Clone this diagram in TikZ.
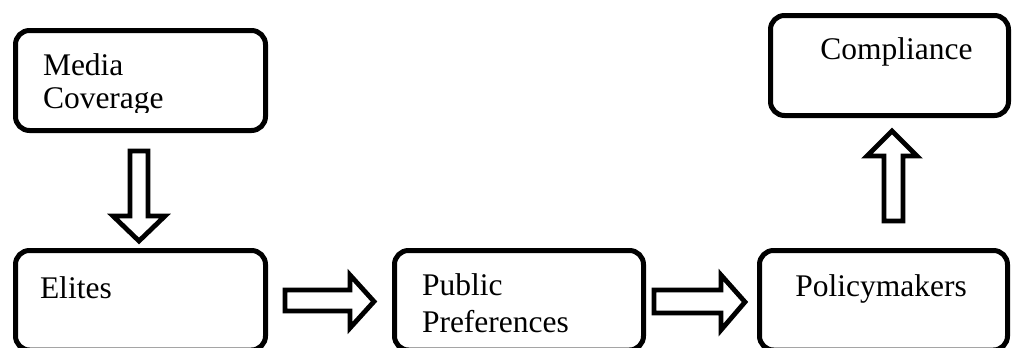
\documentclass[tikz,border=0pt]{standalone}
\usepackage{fontspec}
\setmainfont{Liberation Serif}
\begin{document}
\begin{tikzpicture}[x=1pt,y=-1pt,
  box/.style={draw=black,line width=5pt,rounded corners=14pt,fill=white,inner sep=0pt,outer sep=0pt},
  lbl/.style={inner sep=0pt,outer sep=0pt,font=\fontsize{31.5}{33}\selectfont},
  blockarrow/.style={draw=black,line width=4.8pt,fill=white,line join=miter,miter limit=10}]
\useasboundingbox (0,0) rectangle (1012,348);
\clip (0,0) rectangle (1012,348);
% boxes
\node[box,minimum width=250pt,minimum height=100pt] (media) at (140.5,80.5) {};
\node[box,minimum width=250pt,minimum height=99.5pt] (elites) at (140.5,300.25) {};
\node[box,minimum width=249pt,minimum height=99.5pt] (public) at (519,300.25) {};
\node[box,minimum width=248pt,minimum height=99.5pt] (policy) at (883.5,300.25) {};
\node[box,minimum width=238pt,minimum height=100pt] (compl) at (889.5,65.5) {};
% texts
\node[lbl,anchor=base west] (tmedia) at (43,75) {Media};
\begin{scope}
\clip (15,30) rectangle (266,112.5);
\node[lbl,anchor=base west] (tcov) at (43,108) {Coverage};
\end{scope}
\node[lbl,anchor=base west] (telites) at (40,298) {Elites};
\node[lbl,anchor=base west] (tpub) at (422,295) {Public};
\node[lbl,anchor=base west] (tpref) at (422,332) {Preferences};
\node[lbl,anchor=base] (tpol) at (881,296) {Policymakers};
\node[lbl,anchor=base] (tcomp) at (896.5,59) {Compliance};
% block arrows
\draw[blockarrow] (130,151) -- (148,151) -- (148,216) -- (165,216) -- (139,241) -- (113,216) -- (130,216) -- cycle;
\draw[blockarrow] (285,290) -- (350,290) -- (350,275) -- (374,301.5) -- (350,328) -- (350,311) -- (285,311) -- cycle;
\draw[blockarrow] (654,290) -- (721,290) -- (721,275) -- (745,302) -- (721,330) -- (721,313) -- (654,313) -- cycle;
\draw[blockarrow] (884,221) -- (884,156) -- (867,156) -- (892,131) -- (917,156) -- (903,156) -- (903,221) -- cycle;
\end{tikzpicture}
\end{document}
